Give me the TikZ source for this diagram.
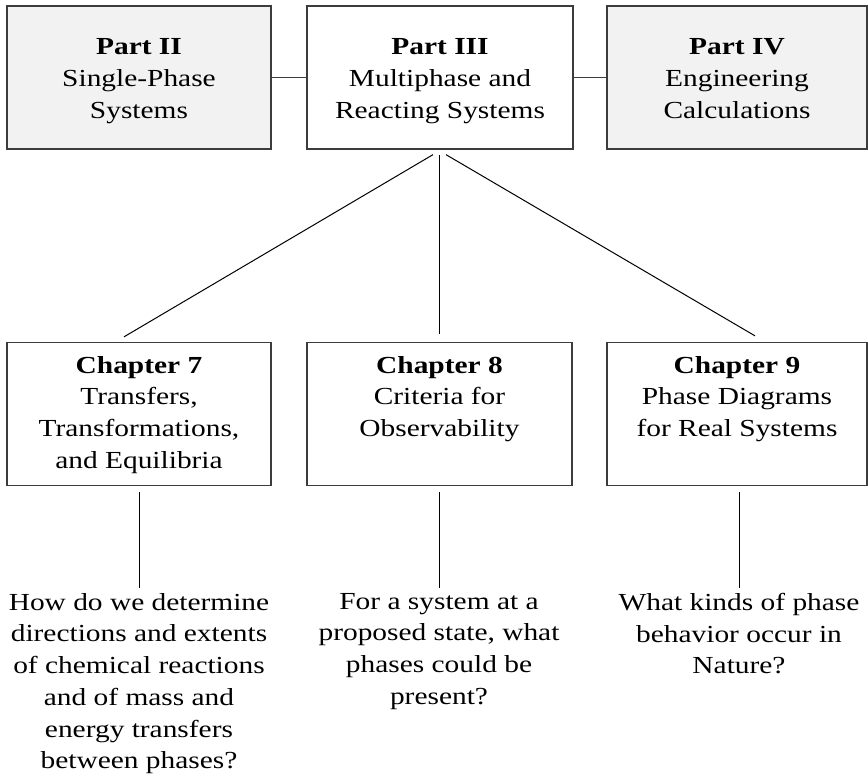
\documentclass[tikz,border=0pt]{standalone}
\usepackage{fontspec}
\setmainfont[FakeStretch=1.2]{Liberation Serif}
\usetikzlibrary{calc}
\definecolor{partfill}{RGB}{242,242,242}
\definecolor{edgegray}{RGB}{60,60,60}
\begin{document}
\begin{tikzpicture}[x=1pt,y=-1pt,
  every node/.style={font=\fontsize{24.5}{31.7}\selectfont},
  box/.style={draw=edgegray, line width=1.3pt, minimum width=264pt, minimum height=143pt, inner sep=0pt, align=center},
  shadedbox/.style={box, fill=partfill},
  lbl/.style={inner sep=0pt, align=center, anchor=north},
  partlink/.style={draw=edgegray, line width=1.3pt},
  link/.style={draw=black, line width=1pt}]
\useasboundingbox (0,0) rectangle (868,778);

% top row
\node[shadedbox] (p2) at (139,77.5) {};
\node[box, minimum width=266pt] (p3) at (440,77.5) {};
\node[shadedbox, minimum width=260pt] (p4) at (737,77.5) {};

\node[lbl] (tp2) at (139,38.5) {\textbf{Part II}\\Single-Phase\\Systems};
\node[lbl] (tp3) at (440,38.5) {\textbf{Part III}\\Multiphase and\\Reacting Systems};
\node[lbl] (tp4) at (737,38.5) {\textbf{Part IV}\\Engineering\\Calculations};

\draw[partlink] (p2.east) -- (p3.west);
\draw[partlink] (p3.east) -- (p4.west);

% chapter boxes
\node[box] (c7) at (139,414) {};
\node[box, minimum width=265pt] (c8) at (439.5,414) {};
\node[box, minimum width=260pt] (c9) at (737,414) {};

\node[lbl] (t7) at (139,356) {\textbf{Chapter 7}\\Transfers,\\Transformations,\\and Equilibria};
\node[lbl] (t8) at (439.5,356) {\textbf{Chapter 8}\\Criteria for\\Observability};
\node[lbl] (t9) at (737,356) {\textbf{Chapter 9}\\Phase Diagrams\\for Real Systems};

% fan-out lines
\draw[link] ($(p3.south)+(-7,5)$) -- ($(c7.north)+(-15,-5)$);
\draw[link] ($(p3.south)+(-1,5)$) -- ($(c8.north)+(-0.5,-8)$);
\draw[link] ($(p3.south)+(6,5)$) -- ($(c9.north)+(18,-6)$);

% questions
\node[lbl] (q7) at (139,593) {How do we determine\\directions and extents\\of chemical reactions\\and of mass and\\energy transfers\\between phases?};
\node[lbl] (q8) at (439,593) {For a system at a\\proposed state, what\\phases could be\\present?};
\node[lbl] (q9) at (739,593) {What kinds of phase\\behavior occur in\\Nature?};

\draw[link] ($(q7.north |- c7.south)+(0,6)$) -- ($(q7.north)+(0,-5)$);
\draw[link] ($(q8.north |- c8.south)+(0,6)$) -- ($(q8.north)+(0,-5)$);
\draw[link] ($(q9.north |- c9.south)+(0,6)$) -- ($(q9.north)+(0,-5)$);
\end{tikzpicture}
\end{document}
